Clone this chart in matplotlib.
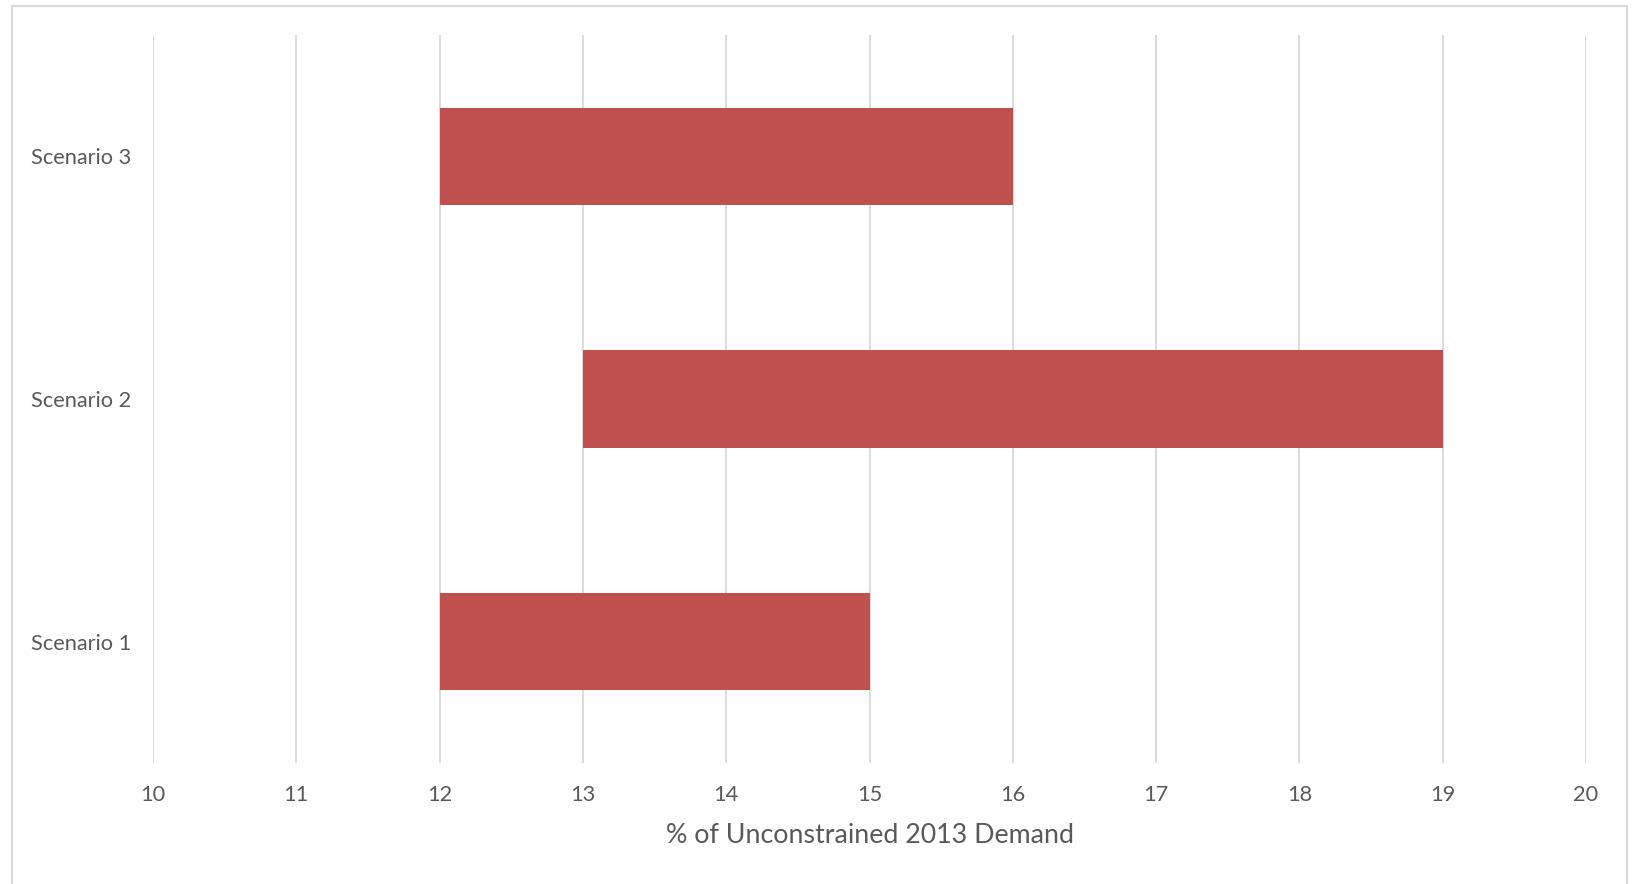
import matplotlib
matplotlib.use("Agg")
import matplotlib.pyplot as plt
from matplotlib.patches import Rectangle

# floating bars: start and end of each scenario range (% of demand)
scenarios = ["Scenario 1", "Scenario 2", "Scenario 3"]
range_lo = [12, 13, 12]
range_hi = [15, 19, 16]
x_ticks = list(range(10, 21))

BAR_COLOR = "#C0504D"
GRID = "#D9D9D9"
TEXT = "#595959"

plt.rcParams["font.family"] = ["Lato", "DejaVu Sans"]

fig = plt.figure(figsize=(16.32, 8.84), dpi=100)
fig.patch.set_facecolor("white")
ax = fig.add_axes([153 / 1632, 1 - 763 / 884, (1586 - 153) / 1632, (763 - 35) / 884])

widths = [h - l for l, h in zip(range_lo, range_hi)]
ax.barh(range(len(scenarios)), widths, left=range_lo, height=0.4,
        color=BAR_COLOR, zorder=3)

ax.set_xlim(10, 20)
ax.set_ylim(-0.5, len(scenarios) - 0.5)
ax.set_xticks(x_ticks)
ax.set_xticklabels([str(t) for t in x_ticks])
ax.set_yticks(range(len(scenarios)))
ax.set_yticklabels(scenarios)
ax.grid(axis="x", color=GRID, lw=1.3, zorder=0)
ax.tick_params(length=0, labelsize=15.7, colors=TEXT)
ax.tick_params(axis="x", pad=16)
ax.tick_params(axis="y", pad=16)
for s in ax.spines.values():
    s.set_visible(False)

ax.set_xlabel("% of Unconstrained 2013 Demand", fontsize=19.3, color=TEXT, labelpad=13)

# light chart-area frame (bottom edge runs off the picture)
fig.add_artist(Rectangle((12 / 1632, -0.05), (1627 - 12) / 1632, 1.05 - 6 / 884,
                         transform=fig.transFigure, fill=False,
                         edgecolor=GRID, lw=1.5))

fig.savefig("out.png", dpi=100)
